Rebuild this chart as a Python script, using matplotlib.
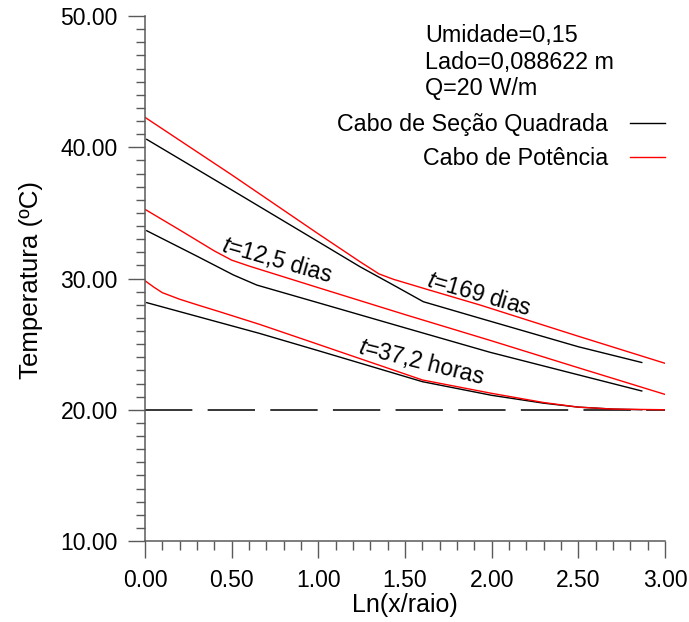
import matplotlib
matplotlib.use("Agg")
import matplotlib.pyplot as plt
from matplotlib.ticker import MultipleLocator, FormatStrFormatter

plt.rcParams["font.family"] = "Liberation Sans"
plt.rcParams["mathtext.fontset"] = "custom"
plt.rcParams["mathtext.rm"] = "Liberation Sans"
plt.rcParams["mathtext.it"] = "Liberation Sans:italic"

# ---- data (x = Ln(x/raio), y = temperatura) ----
# t = 169 dias
x_169_pot = [0.0, 0.5, 1.0, 1.24, 1.35, 1.433, 1.625, 1.933, 2.5, 3.0]
t_169_pot = [42.28, 37.9, 33.4, 31.28, 30.35, 29.94, 29.18, 27.98, 25.6, 23.54]
x_169_sq = [0.01, 0.5, 1.0, 1.24, 1.433, 1.606, 1.933, 2.5, 2.866]
t_169_sq = [40.6, 36.75, 32.8, 30.9, 29.5, 28.23, 26.97, 24.8, 23.6]

# t = 12,5 dias
x_125_pot = [0.0, 0.2, 0.4, 0.5, 0.6, 1.0, 1.5, 2.0, 2.5, 3.0]
t_125_pot = [35.27, 33.7, 32.1, 31.4, 30.95, 29.3, 27.25, 25.25, 23.2, 21.17]
x_125_sq = [0.01, 0.3, 0.51, 0.645, 1.0, 1.5, 1.99, 2.5, 2.866]
t_125_sq = [33.64, 31.7, 30.27, 29.5, 28.15, 26.24, 24.38, 22.66, 21.43]

# t = 37,2 horas
x_372_pot = [0.0, 0.05, 0.1, 0.2, 0.3, 0.43, 0.66, 1.0, 1.6, 2.0, 2.3, 2.5, 2.7, 3.0]
t_372_pot = [29.83, 29.35, 28.92, 28.42, 28.0, 27.47, 26.51, 24.98, 22.27, 21.25, 20.55,
             20.2, 20.05, 20.0]
x_372_sq = [0.01, 0.66, 1.0, 1.6, 2.0, 2.3, 2.5, 2.7, 2.866]
t_372_sq = [28.16, 25.82, 24.5, 22.14, 21.1, 20.5, 20.2, 20.05, 20.0]

# temperatura ambiente
x_amb = [0.0, 3.0]
t_amb = [20.0, 20.0]

RED = "#ff0000"
BLACK = "#000000"
GRAY = "#5a5a5a"

fig = plt.figure(figsize=(6.89, 6.22), dpi=100)
ax = fig.add_axes([145 / 689, 81 / 622, 520 / 689, 525 / 622])

ax.plot(x_amb, t_amb, color=BLACK, lw=1.1, dashes=(31, 10))
l_sq, = ax.plot(x_169_sq, t_169_sq, color=BLACK, lw=1.0, label="Cabo de Seção Quadrada")
l_pot, = ax.plot(x_169_pot, t_169_pot, color=RED, lw=1.0, label="Cabo de Potência")
ax.plot(x_125_sq, t_125_sq, color=BLACK, lw=1.0)
ax.plot(x_125_pot, t_125_pot, color=RED, lw=1.0)
ax.plot(x_372_sq, t_372_sq, color=BLACK, lw=1.0)
ax.plot(x_372_pot, t_372_pot, color=RED, lw=1.0)

ax.set_xlim(0, 3)
ax.set_ylim(10, 50)
ax.xaxis.set_major_locator(MultipleLocator(0.5))
ax.xaxis.set_minor_locator(MultipleLocator(0.1))
ax.yaxis.set_major_locator(MultipleLocator(10))
ax.yaxis.set_minor_locator(MultipleLocator(1))
ax.xaxis.set_major_formatter(FormatStrFormatter("%.2f"))
ax.yaxis.set_major_formatter(FormatStrFormatter("%.2f"))

for s in ("top", "right"):
    ax.spines[s].set_visible(False)
for s in ("left", "bottom"):
    ax.spines[s].set_color(GRAY)
    ax.spines[s].set_linewidth(1.1)
ax.tick_params(which="major", length=12.5, width=1.0, color=GRAY, labelsize=16.5, pad=7)
ax.tick_params(which="minor", length=6.3, width=1.0, color=GRAY)
ax.tick_params(axis="x", which="major", pad=8)

ax.set_xlabel("Ln(x/raio)", fontsize=18)
ax.set_ylabel("Temperatura (ºC)", fontsize=18.6)
ax.xaxis.set_label_coords(0.5, -0.099)
ax.yaxis.set_label_coords(-0.197, 0.497)

# curve labels
ax.text(0.765, 31.45, "$t$=12,5 dias", fontsize=16.5, rotation=-16,
        rotation_mode="anchor", ha="center", va="center")
ax.text(1.927, 28.8, "$t$=169 dias", fontsize=16.5, rotation=-16,
        rotation_mode="anchor", ha="center", va="center")
ax.text(1.598, 23.7, "$t$=37,2 horas", fontsize=16.5, rotation=-14,
        rotation_mode="anchor", ha="center", va="center")

# parameters
x0 = (425 - 145) / 520
for py, s in ((42.3, "Umidade=0,15"), (69.0, "Lado=0,088622 m"), (95.0, "Q=20 W/m")):
    ax.text(x0, (541 - py) / 525, s, transform=ax.transAxes, fontsize=16.8,
            ha="left", va="baseline")

ax.legend(handles=[l_sq, l_pot], loc="upper right", bbox_to_anchor=(1.0, 0.8145),
          frameon=False, markerfirst=False, alignment="right", fontsize=16.75,
          handlelength=1.5, handletextpad=0.95, labelspacing=0.45,
          borderpad=0, borderaxespad=0)

fig.savefig("out.png", dpi=100, facecolor="white")
